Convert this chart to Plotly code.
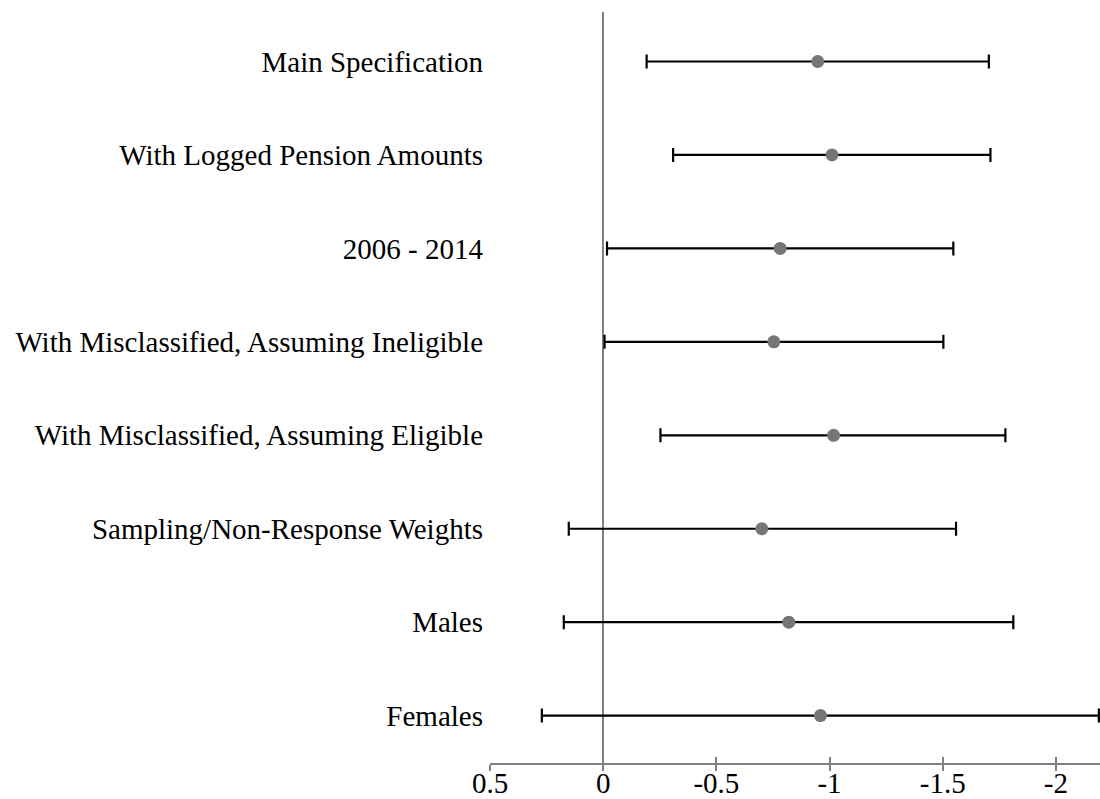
import plotly.graph_objects as go

categories = [
    "Main Specification",
    "With Logged Pension Amounts",
    "2006 - 2014",
    "With Misclassified, Assuming Ineligible",
    "With Misclassified, Assuming Eligible",
    "Sampling/Non-Response Weights",
    "Males",
    "Females",
]
estimates = [-0.948, -1.011, -0.782, -0.754, -1.018, -0.701, -0.820, -0.960]
ci_low = [-0.192, -0.309, -0.017, -0.006, -0.253, 0.152, 0.174, 0.271]
ci_high = [-1.704, -1.711, -1.547, -1.503, -1.777, -1.559, -1.812, -2.19]
tick_vals = [0.5, 0, -0.5, -1, -1.5, -2]
tick_text = ["0.5", "0", "-0.5", "-1", "-1.5", "-2"]

n = len(categories)
ypos = [n - 1 - i for i in range(n)]
err_plus = [lo - e for lo, e in zip(ci_low, estimates)]
err_minus = [e - hi for hi, e in zip(ci_high, estimates)]

FONT = "Liberation Serif, Times New Roman, serif"

fig = go.Figure()
fig.add_trace(go.Scatter(
    x=estimates, y=ypos, mode="markers",
    marker=dict(color="#767676", size=13),
    error_x=dict(type="data", symmetric=False, array=err_plus, arrayminus=err_minus,
                 color="black", thickness=2.2, width=7),
    showlegend=False, cliponaxis=False,
))
# invisible trace for the overlaid axis that draws the inner half of the crossing ticks
fig.add_trace(go.Scatter(x=[0], y=[0], xaxis="x2", mode="markers",
                         marker=dict(opacity=0), showlegend=False, hoverinfo="skip"))

xrange = [0.5, -2.195]
fig.update_layout(
    width=1100, height=799,
    margin=dict(l=490, r=0, t=12, b=36),
    paper_bgcolor="white", plot_bgcolor="white",
    font=dict(family=FONT, size=28, color="black"),
    xaxis=dict(range=xrange, tickvals=tick_vals, ticktext=tick_text, automargin=False,
               showgrid=False, zeroline=True, zerolinecolor="#808080", zerolinewidth=2,
               showline=True, linecolor="#808080", linewidth=2,
               ticks="outside", ticklen=6, tickwidth=2, tickcolor="#808080",
               ticklabelstandoff=-13,
               tickfont=dict(family=FONT, size=29, color="black")),
    xaxis2=dict(range=xrange, tickvals=tick_vals, overlaying="x", anchor="y", side="bottom",
                showgrid=False, zeroline=False, showline=False, showticklabels=False,
                automargin=False,
                ticks="inside", ticklen=6, tickwidth=2, tickcolor="#808080"),
    yaxis=dict(range=[-0.507, 7.53], tickvals=ypos, ticktext=categories, automargin=False,
               showgrid=False, zeroline=False, showline=False, ticks="",
               ticklabelstandoff=6,
               tickfont=dict(family=FONT, size=29, color="black")),
)

fig.write_html("out.html")
